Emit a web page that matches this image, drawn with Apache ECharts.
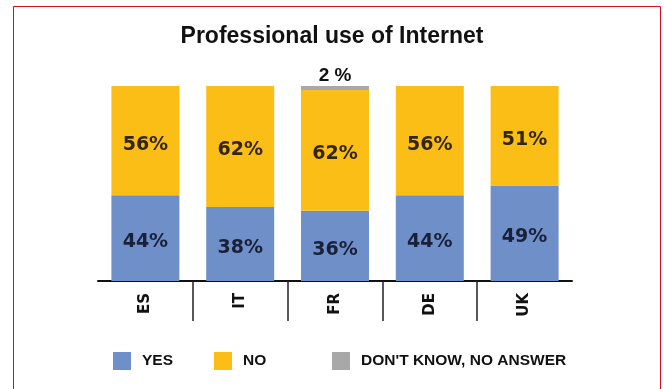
<!DOCTYPE html>
<html>
<head>
<meta charset="utf-8">
<script src="https://cdn.jsdelivr.net/npm/echarts@6/dist/echarts.min.js"></script>
<style>
  html, body { margin: 0; padding: 0; background: #fff; }
  #main { width: 664px; height: 389px; }
</style>
</head>
<body>
<div id="main"></div>
<script>
// data
var countries = ['ES', 'IT', 'FR', 'DE', 'UK']
var yesValues = [44, 38, 36, 44, 49]
var noValues = [56, 62, 62, 56, 51]
var dkValues = [0, 0, 2, 0, 0]
var legendNames = ['YES', 'NO', "DON'T KNOW, NO ANSWER"]

var labelFont = 'DejaVu Sans'
var textFont = 'Liberation Sans'

var myChart = echarts.init(document.getElementById('main'))

function legendAt(name, left) {
  return {
    data: [name],
    left: left,
    top: 347,
    icon: 'rect',
    itemWidth: 18,
    itemHeight: 18,
    selectedMode: false,
    textStyle: {
      fontFamily: textFont,
      fontWeight: 'bold',
      fontSize: 15.5,
      color: '#111',
      padding: [0, 0, 0, 6]
    }
  }
}

var option = {
  backgroundColor: '#fff',
  animation: false,
  title: {
    text: 'Professional use of Internet',
    left: 'center',
    top: 20,
    textStyle: {
      fontFamily: textFont,
      fontWeight: 'bold',
      fontSize: 23,
      color: '#111'
    }
  },
  legend: [
    legendAt(legendNames[0], 108),
    legendAt(legendNames[1], 209),
    legendAt(legendNames[2], 327)
  ],
  grid: {
    left: 98,
    right: 92,
    top: 86,
    bottom: 108
  },
  xAxis: [
    {
      type: 'category',
      data: countries,
      axisLine: { lineStyle: { color: '#111', width: 2 } },
      axisTick: { show: false },
      axisLabel: {
        rotate: 90,
        margin: 12,
        fontFamily: labelFont,
        fontWeight: 'bold',
        fontSize: 15,
        color: '#111'
      }
    },
    {
      // only used for the separator lines between the countries
      type: 'category',
      position: 'bottom',
      boundaryGap: false,
      data: Array(countries.length + 1).fill(''),
      axisLine: { show: false },
      axisLabel: { show: false },
      axisTick: {
        show: true,
        length: 40,
        interval: function (i) { return i > 0 && i < countries.length },
        lineStyle: { color: '#222', width: 1.5 }
      }
    }
  ],
  yAxis: {
    type: 'value',
    min: 0,
    max: 100,
    show: false
  },
  series: [
    {
      name: legendNames[0],
      type: 'bar',
      stack: 'all',
      barWidth: 68,
      data: yesValues,
      itemStyle: { color: '#6f8fc8' },
      label: {
        show: true,
        position: 'inside',
        offset: [0, 4],
        formatter: '{c}%',
        fontFamily: labelFont,
        fontWeight: 'bold',
        fontSize: 19,
        color: '#19213a'
      }
    },
    {
      name: legendNames[1],
      type: 'bar',
      stack: 'all',
      barWidth: 68,
      data: noValues,
      itemStyle: { color: '#fbbe17' },
      label: {
        show: true,
        position: 'inside',
        offset: [0, 4],
        formatter: '{c}%',
        fontFamily: labelFont,
        fontWeight: 'bold',
        fontSize: 19,
        color: '#33260e'
      }
    },
    {
      name: legendNames[2],
      type: 'bar',
      stack: 'all',
      barWidth: 68,
      data: dkValues,
      itemStyle: { color: '#a8a8a8' },
      label: {
        show: true,
        position: 'top',
        distance: 1,
        formatter: function (p) { return p.value > 0 ? p.value + ' %' : '' },
        fontFamily: textFont,
        fontWeight: 'bold',
        fontSize: 19,
        color: '#111'
      }
    }
  ],
  graphic: [
    {
      type: 'rect',
      shape: { x: 13.5, y: 6.5, width: 647, height: 420 },
      style: { fill: null, stroke: '#d0101e', lineWidth: 1 },
      silent: true
    }
  ]
}

myChart.setOption(option)

window.addEventListener('resize', function () {
  myChart.resize()
})
</script>
</body>
</html>
